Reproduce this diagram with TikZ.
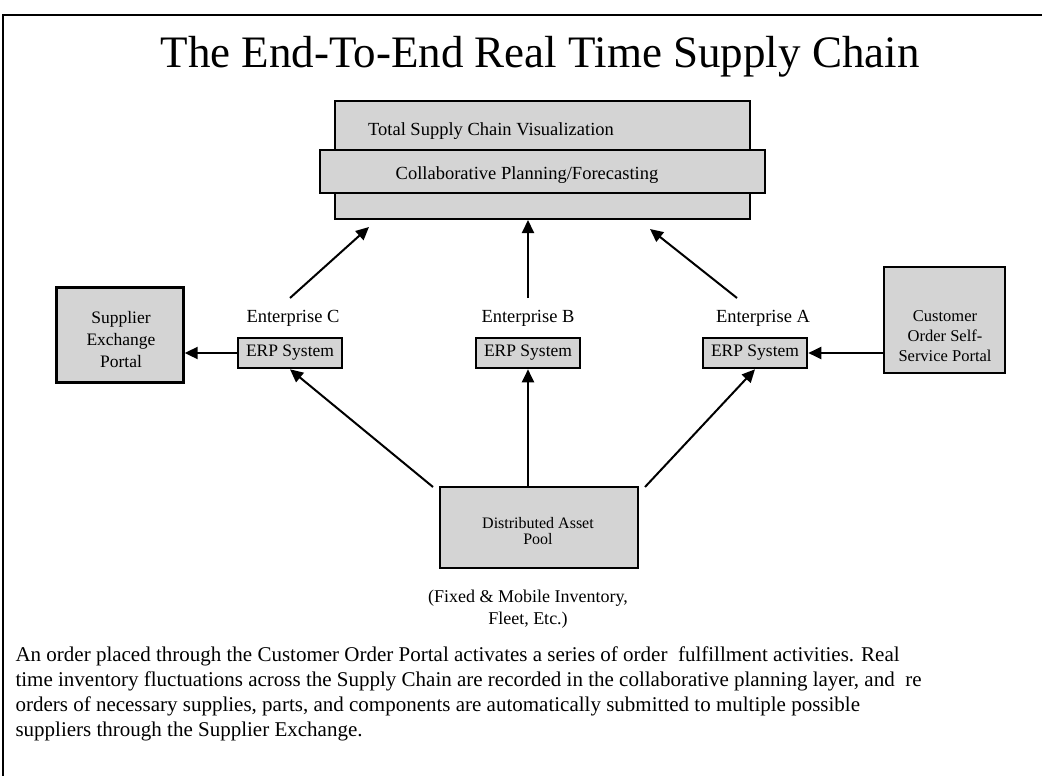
\documentclass[tikz,border=0pt]{standalone}
\usepackage{fontspec}
\setmainfont{Liberation Serif}
\usetikzlibrary{arrows.meta,positioning}

\tikzset{
  box/.style={draw, line width=2pt, fill=black!17, inner sep=0pt},
  erpbox/.style={box, line width=2.6pt, minimum width=104pt, minimum height=30pt,
    font=\fontsize{17.5}{21}\selectfont},
  lbl/.style={font=\fontsize{18.5}{21}\selectfont, align=center},
  small/.style={font=\fontsize{16.5}{19}\selectfont, align=center},
  arr/.style={line width=2pt, -{Triangle[length=13pt,width=12pt]}}
}

\begin{document}
\begin{tikzpicture}[x=1pt,y=-1pt]
\useasboundingbox (0,0) rectangle (1042,776);
\fill[white] (0,0) rectangle (1042,776);

% Frame
\draw[line width=1.5pt] (1042,15) -- (3,15) -- (3,776);

% Title
\node[font=\fontsize{45}{54}\selectfont] (title) at (540,57) {The End-To-End Real Time Supply Chain};

% Planning layers
\node[box, minimum width=415pt, minimum height=118pt] (visual) at (542.5,160) {};
\node[box, minimum width=445pt, minimum height=43pt] (collab) at (542.5,171.5) {};
\node[lbl] (visualtxt) at (491,131) {Total Supply Chain Visualization};
\node[lbl] (collabtxt) at (527,175) {Collaborative Planning/Forecasting};

% Enterprises
\node[lbl] (entC) at (293,318) {Enterprise C};
\node[lbl] (entB) at (528,318) {Enterprise B};
\node[lbl] (entA) at (763,318) {Enterprise A};
\node[erpbox] (erpC) at (290,353) {ERP System};
\node[erpbox] (erpB) at (528,353) {ERP System};
\node[erpbox] (erpA) at (755,353) {ERP System};

% Portals
\node[box, line width=2.4pt, minimum width=127pt, minimum height=95pt] (supplier) at (120,335) {};
\node[lbl, font=\fontsize{17.5}{22}\selectfont] (suppliertxt) at (121,340) {Supplier\\Exchange\\Portal};
\node[box, line width=2.4pt, minimum width=121pt, minimum height=106pt] (customer) at (944.5,320) {};
\node[small, font=\fontsize{16.5}{20}\selectfont] (customertxt) at (945,336) {Customer\\Order Self-\\Service Portal};

% Asset pool
\node[box, line width=2.6pt, minimum width=198pt, minimum height=81pt] (pool) at (539,527.5) {};
\node[small, font=\fontsize{16}{16}\selectfont] (pooltxt) at (538,531) {Distributed Asset\\Pool};
\node[lbl, font=\fontsize{18}{22}\selectfont] (poolnote) at (528,609) {(Fixed \& Mobile Inventory,\\Fleet, Etc.)};

% Arrow ends
\coordinate (upC) at (290,298);
\coordinate (upB) at (528,298);
\coordinate (upA) at (737,298);
\coordinate (tipC) at (369,227);
\coordinate (tipA) at (650,229);
\coordinate (poolC) at (433,487);
\coordinate (poolA) at (645,487);

% Arrows up to the planning layer
\draw[arr] (upC) -- (tipC);
\draw[arr] (upB) -- (upB |- visual.south);
\draw[arr] (upA) -- (tipA);

% Arrows from the asset pool
\draw[arr] (poolC) -- (erpC.south);
\draw[arr] (pool.north -| erpB) -- (erpB.south);
\draw[arr] (poolA) -- (erpA.south);

% Portal arrows
\draw[arr] (erpC.west) -- (erpC.west -| supplier.east);
\draw[arr] (customer.west |- erpA) -- (erpA.east);

% Text
\node[anchor=north west, align=left, font=\fontsize{21}{25}\selectfont] (para) at (12,643)
  {An order placed through the Customer Order Portal activates a series of order\ \ fulfillment activities. Real\\
   time inventory fluctuations across the Supply Chain are recorded in the collaborative planning layer, and\ \ re\\
   orders of necessary supplies, parts, and components are automatically submitted to multiple possible\\
   suppliers through the Supplier Exchange.};
\end{tikzpicture}
\end{document}
